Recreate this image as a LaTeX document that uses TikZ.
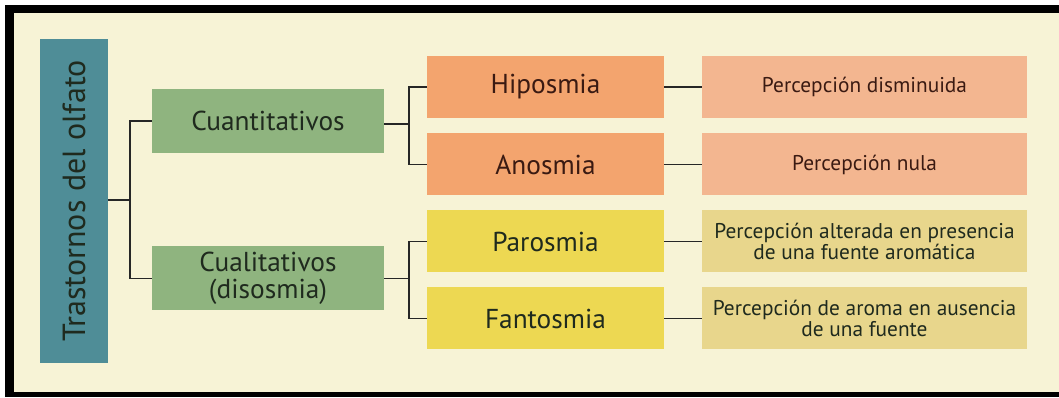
\documentclass[tikz,border=0pt]{standalone}
\usepackage{fontspec}
\setmainfont{PT Sans}
\definecolor{cream}{HTML}{F7F3D6}
\definecolor{teal}{HTML}{4F8D97}
\definecolor{sage}{HTML}{8FB47F}
\definecolor{orangeA}{HTML}{F3A46E}
\definecolor{orangeB}{HTML}{F3B690}
\definecolor{yellowA}{HTML}{EDD852}
\definecolor{yellowB}{HTML}{E8D68C}
\definecolor{inkA}{HTML}{1F2A1E}
\definecolor{inkB}{HTML}{3A1A12}
\begin{document}
\begin{tikzpicture}[x=0.75pt,y=-0.75pt,
  box/.style={rectangle,inner sep=0pt,align=center},
  titlebox/.style={box,fill=teal,text=inkA,font=\fontsize{24}{28}\selectfont,rotate=90,minimum width=243pt,minimum height=51pt},
  catbox/.style={box,fill=sage,text=inkA,font=\fontsize{20.5}{20}\selectfont,minimum width=174pt,minimum height=48pt},
  midbox/.style={box,text=inkB,font=\fontsize{20.5}{22}\selectfont,minimum width=177.75pt,minimum height=46.5pt},
  descbox/.style={box,text=inkB,font=\fontsize{16}{15.5}\selectfont,minimum width=243.75pt,minimum height=46.5pt},
  link/.style={draw=black!85,line width=1.1pt}]
\useasboundingbox (0,0) rectangle (1059,398);
\fill[white] (0,0) rectangle (1059,398);
\fill[black] (5,5) rectangle (1059,397);
\fill[cream] (14,13) rectangle (1059,392);
% nodes
\node[titlebox] (title) at (74,201) {Trastornos del olfato};
\node[catbox] (cuan) at (268,121) {Cuantitativos};
\node[catbox] (cual) at (268,278.5) {Cualitativos\\(disosmia)};
\node[midbox,fill=orangeA] (hip) at (545.5,87) {Hiposmia};
\node[midbox,fill=orangeA] (ano) at (545.5,164.5) {Anosmia};
\node[midbox,fill=yellowA,text=inkA] (par) at (545.5,241.5) {Parosmia};
\node[midbox,fill=yellowA,text=inkA] (fan) at (545.5,318.5) {Fantosmia};
\node[descbox,fill=orangeB] (pd) at (864.5,87) {Percepción disminuida};
\node[descbox,fill=orangeB] (pn) at (864.5,164.5) {Percepción nula};
\node[descbox,fill=yellowB,text=inkA] (pa) at (864.5,241.5) {Percepción alterada en presencia\\de una fuente aromática};
\node[descbox,fill=yellowB,text=inkA] (pf) at (864.5,318.5) {Percepción de aroma en ausencia\\de una fuente};
% connectors
\coordinate (j1) at (130,200);
\coordinate (j2) at (409,124);
\coordinate (j3) at (409,278.5);
\draw[link] (title.south |- j1) -- (j1);
\draw[link] (cuan.west) -| (j1) |- (cual.west);
\draw[link] (cuan.east |- j2) -- (j2);
\draw[link] (hip.west) -| (j2) |- (ano.west);
\draw[link] (cual.east) -- (j3);
\draw[link] (par.west) -| (j3) |- (fan.west);
\draw[link] (hip.east) -- (pd.west);
\draw[link] (ano.east) -- (pn.west);
\draw[link] (par.east) -- (pa.west);
\draw[link] (fan.east) -- (pf.west);
\end{tikzpicture}
\end{document}
